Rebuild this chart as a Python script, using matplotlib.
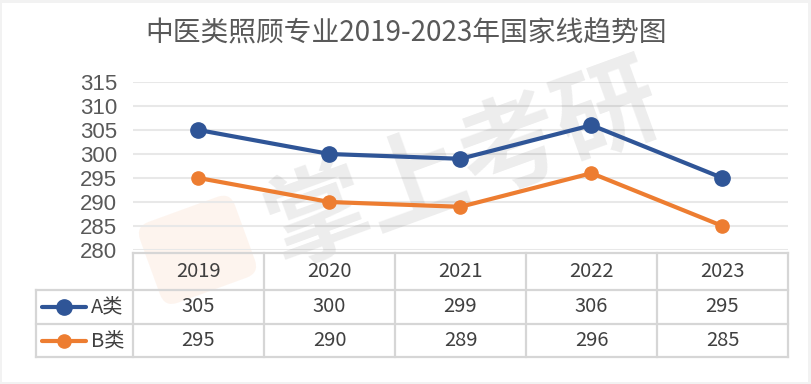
import matplotlib.pyplot as plt
from matplotlib.lines import Line2D
from matplotlib.patches import Rectangle, FancyBboxPatch
import matplotlib.transforms as mtransforms

years = ['2019', '2020', '2021', '2022', '2023']
a_vals = [305, 300, 299, 306, 295]
b_vals = [295, 290, 289, 296, 285]
series_names = ['A类', 'B类']
yticks = [280, 285, 290, 295, 300, 305, 310, 315]
title = '中医类照顾专业2019-2023年国家线趋势图'

BLUE = '#2F5597'
ORANGE = '#ED7D31'
GRID = '#e8e8e8'
TABLE_LINE = '#d6d6d6'
TXT = '#404040'
CJK = ['Noto Sans CJK SC', 'DejaVu Sans']

W, H = 812, 384
fig = plt.figure(figsize=(W / 100, H / 100), dpi=100)
fig.patch.set_facecolor('#f2f2f2')

def px(x, y):
    # pixel coords (top-left origin) -> figure fraction
    return x / W, 1 - y / H

# white card
fig.patches.append(Rectangle(px(2, 382), 806 / W, 379 / H, transform=fig.transFigure,
                             facecolor='white', edgecolor='none', zorder=-10))

# main axes
x0, x1 = 133, 788
ytop, ybot = 82, 250
ax = fig.add_axes([x0 / W, 1 - ybot / H, (x1 - x0) / W, (ybot - ytop) / H])
ax.set_facecolor('none')
ax.set_xlim(-0.5, len(years) - 0.5)
ax.set_ylim(280, 315)
ax.set_yticks(yticks)
ax.set_xticks([])
for s in ax.spines.values():
    s.set_visible(False)
ax.tick_params(axis='y', length=0, pad=11.5, labelsize=16, labelcolor='#595959')
for lb in ax.get_yticklabels():
    lb.set_fontfamily('Liberation Sans')
for t in yticks:
    ax.axhline(t, color=GRID, lw=1.5, zorder=1)

xs = list(range(len(years)))
ax.plot(xs, a_vals, color=BLUE, lw=3, marker='o', ms=11, zorder=3, clip_on=False)
ax.plot(xs, b_vals, color=ORANGE, lw=3, marker='o', ms=9.5, zorder=3, clip_on=False)

# watermark
ax.text(0.505, 0.5, '掌上考研', transform=ax.transAxes, rotation=20,
        fontsize=74, fontweight='bold', family=CJK, color='#000000',
        alpha=0.075, ha='center', va='center', zorder=2)
logo = FancyBboxPatch((155, 215), 85, 70, boxstyle='round,pad=8,rounding_size=14',
                      transform=mtransforms.Affine2D().rotate_deg_around(197, 250, -20)
                      + mtransforms.Affine2D().scale(1, -1).translate(0, H),
                      facecolor=ORANGE, alpha=0.08, edgecolor='none', zorder=-5)
fig.patches.append(logo)

fig.text(406 / W, 1 - 33 / H, title, ha='center', va='center', fontsize=20,
         family=CJK, color='#595959')

# table
lw = 1.6
row_y = [253, 290, 324, 357]
col_x = [133 + i * 131 for i in range(6)]
lab_x = 36

def hline(xa, xb, y):
    fig.add_artist(Line2D([xa / W, xb / W], [1 - y / H, 1 - y / H], color=TABLE_LINE, lw=lw,
                          transform=fig.transFigure))

def vline(x, ya, yb):
    fig.add_artist(Line2D([x / W, x / W], [1 - ya / H, 1 - yb / H], color=TABLE_LINE, lw=lw,
                          transform=fig.transFigure))

hline(col_x[0], col_x[-1], row_y[0])
for y in row_y[1:]:
    hline(lab_x, col_x[-1], y)
for x in col_x:
    vline(x, row_y[0], row_y[-1])
vline(lab_x, row_y[1], row_y[-1])

for i, yr in enumerate(years):
    cx = (col_x[i] + col_x[i + 1]) / 2
    fig.text(cx / W, 1 - (row_y[0] + row_y[1]) / 2 / H, yr, ha='center', va='center',
             fontsize=14.5, family=CJK, color=TXT)
    fig.text(cx / W, 1 - (row_y[1] + row_y[2]) / 2 / H, str(a_vals[i]), ha='center',
             va='center', fontsize=14.5, family=CJK, color=TXT)
    fig.text(cx / W, 1 - (row_y[2] + row_y[3]) / 2 / H, str(b_vals[i]), ha='center',
             va='center', fontsize=14.5, family=CJK, color=TXT)

for k, (name, col, ms) in enumerate(zip(series_names, [BLUE, ORANGE], [11, 9.5])):
    yc = 1 - (row_y[k + 1] + row_y[k + 2]) / 2 / H
    fig.add_artist(Line2D([42 / W, 86 / W], [yc, yc], color=col, lw=3,
                          solid_capstyle='round', transform=fig.transFigure))
    fig.add_artist(Line2D([64 / W], [yc], color=col, marker='o', ms=ms, lw=0,
                          transform=fig.transFigure))
    fig.text(91 / W, yc, name, ha='left', va='center', fontsize=14.5, family=CJK, color=TXT)

fig.savefig('out.png', dpi=100)
